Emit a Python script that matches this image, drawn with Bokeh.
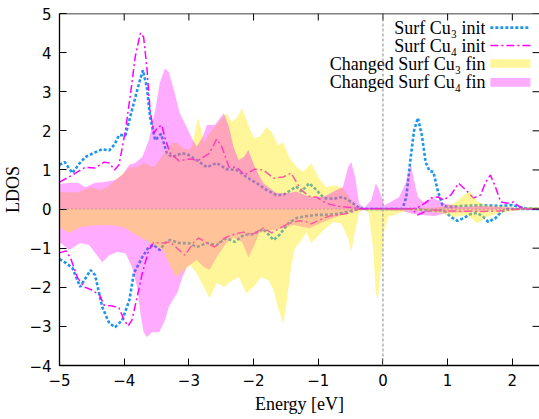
import math
from bokeh.plotting import figure
from bokeh.models import Range1d, FixedTicker, Span
from bokeh.core.properties import value
from bokeh.embed import file_html
from bokeh.resources import INLINE

# ---------------- data ----------------
x_ticks = [-5, -4, -3, -2, -1, 0, 1, 2]
y_ticks = [-4, -3, -2, -1, 0, 1, 2, 3, 4, 5]

legend_labels = ["Surf Cu\u2083 init", "Surf Cu\u2084 init",
                 "Changed Surf Cu\u2083 fin", "Changed Surf Cu\u2084 fin"]

# Surf Cu3 init, spin up / down
cu3_init_up_E = [-5.0,-4.92,-4.8,-4.7,-4.6,-4.45,-4.34,-4.23,-4.15,-4.08,-3.98,-3.88,-3.77,-3.71,-3.65,-3.6,-3.52,-3.43,-3.34,-3.26,-3.1,-3.0,-2.88,-2.72,-2.57,-2.42,-2.26,-2.11,-1.95,-1.8,-1.65,-1.54,-1.42,-1.34,-1.26,-1.14,-1.03,-0.91,-0.77,-0.62,-0.49,-0.37,-0.3,0.3,0.36,0.42,0.48,0.54,0.6,0.66,0.72,0.78,0.85,0.92,1.0,1.2,1.5,1.8,2.0,2.2,2.42]
cu3_init_up = [1.13,1.2,0.92,1.15,1.33,1.45,1.53,1.5,1.65,1.89,1.89,2.53,3.22,3.55,3.12,2.36,1.76,1.92,1.43,1.33,1.43,1.38,1.25,1.07,1.18,1.02,1.0,0.82,0.66,0.49,0.36,0.36,0.49,0.57,0.45,0.66,0.49,0.28,0.26,0.31,0.18,0.03,0.0,0.0,0.3,1.2,2.0,2.33,1.9,1.2,0.97,0.95,0.45,0.1,0.05,0.08,0.1,0.08,0.1,0.02,0.0]
cu3_init_dn_E = [-5.0,-4.9,-4.8,-4.68,-4.52,-4.45,-4.34,-4.23,-4.14,-4.03,-3.92,-3.85,-3.72,-3.62,-3.54,-3.45,-3.37,-3.29,-3.15,-3.0,-2.88,-2.72,-2.57,-2.42,-2.29,-2.15,-2.0,-1.85,-1.69,-1.6,-1.46,-1.34,-1.18,-1.03,-0.83,-0.62,-0.46,-0.35,0.5,0.7,0.94,1.05,1.15,1.25,1.35,1.46,1.55,1.63,1.74,1.82,1.92,2.42]
cu3_init_dn = [-1.28,-1.38,-1.51,-1.99,-1.56,-1.69,-2.5,-2.92,-3.02,-2.84,-2.33,-1.64,-1.23,-0.97,-0.92,-1.05,-0.87,-0.79,-0.87,-0.87,-0.97,-0.87,-0.92,-0.74,-0.84,-0.66,-0.64,-0.51,-0.79,-0.66,-0.36,-0.23,-0.18,-0.15,-0.15,-0.1,-0.03,0.0,0.0,-0.04,-0.03,-0.2,-0.3,-0.23,-0.13,-0.1,-0.2,-0.33,-0.23,-0.08,0.0,0.0]

# Surf Cu4 init, spin up / down
cu4_init_up_E = [-5.0,-4.8,-4.6,-4.45,-4.31,-4.23,-4.15,-4.08,-3.98,-3.9,-3.83,-3.75,-3.7,-3.65,-3.6,-3.54,-3.49,-3.42,-3.37,-3.29,-3.15,-3.0,-2.85,-2.68,-2.57,-2.49,-2.38,-2.26,-2.14,-1.98,-1.85,-1.69,-1.54,-1.42,-1.31,-1.26,-1.15,-1.03,-0.88,-0.72,-0.57,-0.42,-0.3,0.45,0.55,0.65,0.74,0.85,0.94,1.05,1.17,1.28,1.4,1.51,1.58,1.66,1.74,1.82,1.92,2.02,2.12,2.2,2.42]
cu4_init_up = [0.69,0.87,1.07,1.05,1.2,1.18,1.0,1.13,2.02,2.97,3.89,4.5,4.4,3.63,2.53,1.94,2.07,2.15,1.82,1.43,1.23,1.28,1.25,1.43,1.79,1.59,1.07,1.07,0.87,1.02,1.0,0.79,0.82,0.92,0.61,0.49,0.33,0.31,0.15,0.08,0.05,0.03,0.0,0.0,0.05,0.15,0.28,0.31,0.23,0.36,0.66,0.49,0.28,0.36,0.66,0.87,0.56,0.18,0.15,0.18,0.05,0.0,0.0]
cu4_init_dn_E = [-5.0,-4.9,-4.83,-4.72,-4.62,-4.5,-4.38,-4.31,-4.18,-4.08,-4.0,-3.94,-3.88,-3.8,-3.72,-3.62,-3.54,-3.46,-3.38,-3.29,-3.15,-3.06,-2.92,-2.85,-2.72,-2.6,-2.45,-2.29,-2.15,-2.03,-1.85,-1.72,-1.6,-1.45,-1.29,-1.18,-1.11,-0.98,-0.83,-0.68,-0.52,-0.37,0.45,0.54,0.63,0.78,1.0,1.5,1.8,2.1,2.42]
cu4_init_dn = [-1.12,-1.07,-1.25,-1.76,-1.99,-2.07,-2.2,-2.46,-2.48,-2.53,-2.84,-2.99,-2.84,-2.25,-1.64,-1.05,-0.84,-0.87,-0.87,-0.84,-1.05,-1.18,-0.84,-0.74,-0.87,-0.97,-0.74,-0.64,-0.59,-0.66,-0.49,-0.61,-0.49,-0.36,-0.3,-0.33,-0.38,-0.28,-0.18,-0.15,-0.1,0.0,0.0,-0.15,-0.08,-0.02,-0.05,-0.06,-0.05,0.0,0.0]

# Changed Surf Cu3 fin (yellow fill), spin up / down
cu3_fin_up_E = [-5.0,-4.8,-4.72,-4.52,-4.37,-4.22,-4.08,-3.91,-3.8,-3.7,-3.54,-3.38,-3.26,-3.18,-3.1,-3.0,-2.95,-2.86,-2.76,-2.7,-2.6,-2.5,-2.42,-2.34,-2.26,-2.18,-2.11,-2.0,-1.91,-1.8,-1.72,-1.62,-1.54,-1.45,-1.34,-1.23,-1.11,-1.0,-0.88,-0.75,-0.62,-0.52,-0.42,-0.34,0.5,0.9,1.1,1.25,1.35,1.45,1.6,1.8,2.1,2.3,2.42]
cu3_fin_up = [0.43,0.43,0.43,0.56,0.49,0.61,0.82,1.07,1.07,1.18,1.07,1.43,1.69,1.69,1.56,1.51,1.6,2.34,1.7,1.9,2.1,2.3,2.45,2.23,2.33,2.58,2.28,1.82,1.84,2.1,1.97,1.64,1.71,1.33,1.08,0.95,1.18,0.82,0.56,0.61,0.54,0.31,0.1,0.0,0.02,0.05,0.15,0.35,0.45,0.2,0.1,0.08,0.03,0.05,0.05]
cu3_fin_dn_E = [-5.0,-4.85,-4.68,-4.4,-4.1,-3.98,-3.87,-3.62,-3.4,-3.28,-3.2,-3.1,-2.98,-2.88,-2.77,-2.68,-2.57,-2.45,-2.37,-2.23,-2.11,-2.0,-1.88,-1.77,-1.69,-1.62,-1.54,-1.49,-1.42,-1.36,-1.26,-1.18,-1.11,-0.95,-0.77,-0.65,-0.54,-0.49,-0.45,-0.37,-0.29,-0.22,-0.15,-0.11,-0.08,-0.03,0.02,0.08,0.17,0.38,0.6,0.9,1.1,1.3,1.46,1.6,1.8,2.1,2.42]
cu3_fin_dn = [-0.46,-0.61,-0.46,-0.41,-0.43,-0.49,-0.61,-0.84,-1.05,-1.48,-1.74,-1.6,-1.43,-1.64,-1.99,-2.28,-1.89,-1.99,-1.87,-1.74,-2.15,-1.99,-1.74,-1.82,-2.07,-2.53,-2.93,-2.4,-1.48,-1.0,-0.8,-0.6,-0.87,-0.59,-0.33,-0.36,-0.74,-1.1,-0.72,-0.1,0.0,-0.1,-1.05,-2.15,-2.33,-1.48,-0.54,-0.2,-0.15,-0.03,-0.05,-0.1,-0.2,-0.15,-0.36,-0.2,-0.1,-0.03,0.0]

# Changed Surf Cu4 fin (pink fill), spin up / down
cu4_fin_up_E = [-5.0,-4.85,-4.72,-4.6,-4.45,-4.29,-4.14,-4.03,-3.92,-3.83,-3.72,-3.62,-3.52,-3.45,-3.37,-3.31,-3.23,-3.14,-3.05,-2.95,-2.88,-2.8,-2.72,-2.6,-2.46,-2.38,-2.31,-2.23,-2.15,-2.08,-1.98,-1.85,-1.65,-1.45,-1.34,-1.14,-0.92,-0.72,-0.62,-0.54,-0.49,-0.43,-0.37,-0.29,-0.18,-0.11,-0.06,0.02,0.12,0.25,0.35,0.43,0.48,0.54,0.63,0.78,0.94,1.2,1.5,1.8,2.1,2.42]
cu4_fin_up = [0.64,0.67,0.67,0.56,0.67,0.69,0.74,0.87,1.13,1.18,1.33,1.76,2.53,3.22,3.6,3.5,3.04,2.45,2.15,1.8,1.6,1.8,2.15,2.15,2.45,2.1,1.59,1.25,1.33,1.51,1.07,0.66,0.41,0.41,0.45,0.31,0.31,0.49,0.56,1.07,1.2,0.82,0.15,0.03,0.23,0.66,0.49,0.1,0.18,0.31,0.66,1.13,0.74,0.31,0.18,0.28,0.15,0.05,0.08,0.05,0.03,0.0]
cu4_fin_dn_E = [-5.0,-4.85,-4.68,-4.54,-4.34,-4.23,-4.11,-3.98,-3.88,-3.8,-3.75,-3.7,-3.65,-3.57,-3.46,-3.37,-3.31,-3.22,-3.18,-3.1,-3.03,-2.88,-2.77,-2.68,-2.57,-2.42,-2.31,-2.18,-2.08,-2.0,-1.91,-1.75,-1.54,-1.38,-1.26,-1.14,-0.92,-0.72,-0.52,-0.35,0.3,0.45,0.6,0.8,1.0,1.3,1.6,2.0,2.42]
cu4_fin_dn = [-0.84,-1.05,-0.87,-0.92,-1.36,-1.18,-1.1,-1.13,-1.48,-1.99,-2.66,-3.15,-3.27,-3.15,-3.15,-2.84,-2.5,-2.25,-2.15,-1.74,-1.48,-1.3,-1.48,-1.56,-1.23,-0.87,-0.72,-0.84,-1.23,-0.97,-0.61,-0.54,-0.49,-0.41,-0.45,-0.49,-0.33,-0.2,-0.08,0.0,-0.05,-0.12,-0.15,-0.18,-0.1,-0.08,-0.05,-0.02,0.0]

for a, b, n in [(cu3_init_up_E, cu3_init_up, "cu3_init_up"), (cu3_init_dn_E, cu3_init_dn, "cu3_init_dn"),
                (cu4_init_up_E, cu4_init_up, "cu4_init_up"), (cu4_init_dn_E, cu4_init_dn, "cu4_init_dn"),
                (cu3_fin_up_E, cu3_fin_up, "cu3_fin_up"), (cu3_fin_dn_E, cu3_fin_dn, "cu3_fin_dn"),
                (cu4_fin_up_E, cu4_fin_up, "cu4_fin_up"), (cu4_fin_dn_E, cu4_fin_dn, "cu4_fin_dn")]:
    assert len(a) == len(b), (n, len(a), len(b))

# ---------------- styles ----------------
BLUE = "#1e96ee"
MAGENTA = "#ff00ff"
YELLOW = "#ffe600"
YELLOW_A = 0.40
PINK_A = 0.33
SERIF = "Liberation Serif"
SANS = "DejaVu Sans"
X0, X1, Y0, Y1 = -5, 2.42, -4, 5

p = figure(width=539, height=419, output_backend="svg", toolbar_location=None,
           x_range=Range1d(X0, X1), y_range=Range1d(Y0, Y1),
           min_border_left=57, min_border_right=0, min_border_top=13, min_border_bottom=54,
           x_axis_label="Energy [eV]", y_axis_label="LDOS")
p.outline_line_color = None
p.grid.visible = False
p.background_fill_color = "white"
p.border_fill_color = "white"

for ax, ticks in ((p.xaxis[0], x_ticks), (p.yaxis[0], y_ticks)):
    ax.ticker = FixedTicker(ticks=ticks)
    ax.major_tick_in = 7
    ax.major_tick_out = 0
    ax.minor_tick_line_color = None
    ax.axis_line_color = "black"
    ax.axis_line_width = 1.3
    ax.major_tick_line_width = 1
    ax.major_label_text_font = SANS
    ax.major_label_text_font_size = "15px"
    ax.major_label_text_color = "black"
    ax.axis_label_text_font = SERIF
    ax.axis_label_text_font_size = "18px"
    ax.axis_label_text_font_style = "normal"
    ax.axis_label_text_color = "black"
p.xaxis[0].major_label_standoff = 8
p.xaxis[0].axis_label_standoff = 5
p.yaxis[0].major_label_standoff = 8
p.yaxis[0].axis_label_standoff = 3

# ---------------- lines (drawn under the fills) ----------------
p.line(cu3_init_up_E, cu3_init_up, line_color=BLUE, line_width=2.6, line_dash="3 2")
p.line(cu3_init_dn_E, cu3_init_dn, line_color=BLUE, line_width=2.6, line_dash="3 2")
p.line(cu4_init_up_E, cu4_init_up, line_color=MAGENTA, line_width=1.5, line_dash="8 3 2 3")
p.line(cu4_init_dn_E, cu4_init_dn, line_color=MAGENTA, line_width=1.5, line_dash="8 3 2 3")

# ---------------- fills ----------------
p.varea(x=cu3_fin_up_E, y1=[0] * len(cu3_fin_up), y2=cu3_fin_up, fill_color=YELLOW, fill_alpha=YELLOW_A)
p.varea(x=cu4_fin_up_E, y1=[0] * len(cu4_fin_up), y2=cu4_fin_up, fill_color=MAGENTA, fill_alpha=PINK_A)
p.varea(x=cu4_fin_dn_E, y1=[0] * len(cu4_fin_dn), y2=cu4_fin_dn, fill_color=MAGENTA, fill_alpha=PINK_A)
p.varea(x=cu3_fin_dn_E, y1=[0] * len(cu3_fin_dn), y2=cu3_fin_dn, fill_color=YELLOW, fill_alpha=YELLOW_A)

# reference lines
p.add_layout(Span(location=0, dimension="width", line_color="#808080", line_width=1, line_dash="1 3"))
p.add_layout(Span(location=0, dimension="height", line_color="#9a9a9a", line_width=1.2, line_dash="3 2"))

# frame top border and mirrored inward ticks (top and right)
p.add_layout(Span(location=Y1, dimension="width", line_color="black", line_width=1.3))
p.ray(x=x_ticks, y=[Y1] * len(x_ticks), length=7, length_units="screen", angle=-math.pi / 2,
      line_color="black", line_width=1)
p.ray(x=[X1] * len(y_ticks), y=y_ticks, length=7, length_units="screen", angle=math.pi,
      line_color="black", line_width=1)

# ---------------- legend (text right-aligned, sample at right) ----------------
leg_y = [4.64, 4.18, 3.72, 3.24]
leg_tx = 1.585
s0, s1 = 1.66, 2.28
p.text(x=[leg_tx] * 4, y=leg_y, text=legend_labels, text_align="right", text_baseline="middle",
       text_font=value(SERIF), text_font_size=value("18px"), text_color="black")
p.line([s0, s1], [leg_y[0], leg_y[0]], line_color=BLUE, line_width=2.6, line_dash="3 2")
p.line([s0, s1], [leg_y[1], leg_y[1]], line_color=MAGENTA, line_width=1.5, line_dash="8 3 2 3")
p.quad(left=[s0], right=[s1], bottom=[leg_y[2] - 0.11], top=[leg_y[2] + 0.11],
       fill_color=YELLOW, fill_alpha=YELLOW_A, line_color=None)
p.quad(left=[s0], right=[s1], bottom=[leg_y[3] - 0.11], top=[leg_y[3] + 0.11],
       fill_color=MAGENTA, fill_alpha=PINK_A, line_color=None)

open("out.html", "w").write(file_html(p, INLINE))
